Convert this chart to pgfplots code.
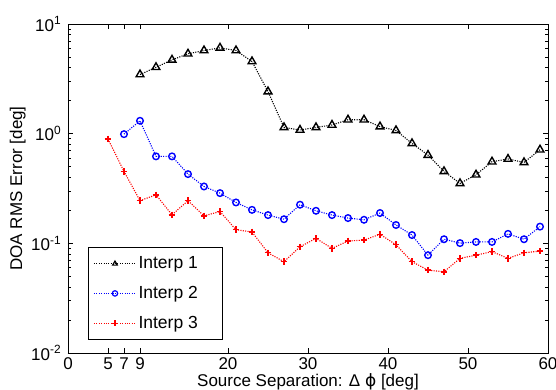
\documentclass[border=0pt]{standalone}
\usepackage{fontspec}
\setmainfont{Liberation Sans}
\newfontfamily\dejavu{DejaVu Sans}
\usepackage{pgfplots}
\pgfplotsset{compat=1.18}
\begin{document}
\fontsize{17bp}{20bp}\selectfont
\begin{tikzpicture}
\begin{axis}[
  at={(0,0)}, anchor=south west,
  width=480bp, height=329bp, scale only axis,
  xmin=0, xmax=60, ymin=0.01, ymax=10, ymode=log,
  xtick={0,5,7,9,20,30,40,50,60},
  xticklabels={0,5,7,9,20,30,40,50,60},
  ytick={0.01,0.1,1,10},
  yticklabels={10\textsuperscript{-2},10\textsuperscript{-1},10\textsuperscript{0},10\textsuperscript{1}},
  tick align=inside, tick pos=both,
  major tick length=5bp, minor tick length=3bp,
  every tick/.style={black, line width=0.5pt},
  axis line style={line width=0.9pt},
  tick label style={font=\fontsize{17bp}{20bp}\selectfont},
  xticklabel style={yshift=1bp},
  yticklabel style={xshift=-1bp},
  label style={font=\fontsize{17bp}{20bp}\selectfont},
  xlabel={Source Separation: Δ {\dejavu ϕ} [deg]},
  ylabel={DOA RMS Error [deg]},
  xlabel style={yshift=8bp},
  ylabel style={yshift=-6bp},
  legend style={at={(20/480,13/329)}, anchor=south west, draw=black, line width=0.9pt,
    font=\fontsize{17.5bp}{20bp}\selectfont, inner xsep=5bp, inner ysep=7bp,
    row sep=11bp},
  legend cell align=left,
  legend image post style={mark size=2.7pt, mark options={solid, line width=1.2pt}},
  legend image code/.code={\draw[#1] (0bp,0bp) -- (21bp,0bp) plot coordinates {(21bp,0bp)} -- (42bp,0bp);},
]
\addplot[black, line width=1.1pt, dash pattern=on 1.1pt off 1.3pt, mark=triangle, mark size=4.5pt,
  mark options={solid, line width=1.4pt}] coordinates {
(9,3.46)(11,4.03)(13,4.71)(15,5.35)(17,5.73)(19,6.06)(21,5.73)(23,4.55)(25,2.42)
(27,1.14)(29,1.08)(31,1.14)(33,1.20)(35,1.34)(37,1.34)(39,1.16)(41,1.07)(43,0.815)
(45,0.638)(47,0.453)(49,0.352)(51,0.422)(53,0.555)(55,0.587)(57,0.547)(59,0.714)};
\addlegendentry{Interp 1\hspace*{18bp}}
\addplot[blue, line width=1.1pt, dash pattern=on 1.1pt off 1.3pt, mark=o, mark size=3.3pt,
  mark options={solid, line width=1.4pt}] coordinates {
(7,0.99)(9,1.31)(11,0.621)(13,0.621)(15,0.428)(17,0.330)(19,0.287)(21,0.236)(23,0.202)
(25,0.181)(27,0.166)(29,0.225)(31,0.198)(33,0.181)(35,0.170)(37,0.164)(39,0.189)
(41,0.147)(43,0.119)(45,0.078)(47,0.109)(49,0.1005)(51,0.103)(53,0.103)(55,0.122)
(57,0.109)(59,0.142)};
\addlegendentry{Interp 2\hspace*{18bp}}
\addplot[red, line width=1.1pt, dash pattern=on 1.1pt off 1.3pt, mark=+, mark size=3.3pt,
  mark options={solid, line width=1.4pt}] coordinates {
(5,0.894)(7,0.453)(9,0.245)(11,0.277)(13,0.182)(15,0.245)(17,0.178)(19,0.195)(21,0.133)
(23,0.127)(25,0.082)(27,0.068)(29,0.093)(31,0.111)(33,0.090)(35,0.105)(37,0.107)
(39,0.121)(41,0.097)(43,0.068)(45,0.057)(47,0.055)(49,0.073)(51,0.078)(53,0.084)
(55,0.073)(57,0.082)(59,0.085)};
\addlegendentry{Interp 3\hspace*{18bp}}
\end{axis}
\pgfresetboundingbox
\path[use as bounding box] (-68bp,-37bp) rectangle (488bp,353bp);
\end{tikzpicture}
\end{document}
